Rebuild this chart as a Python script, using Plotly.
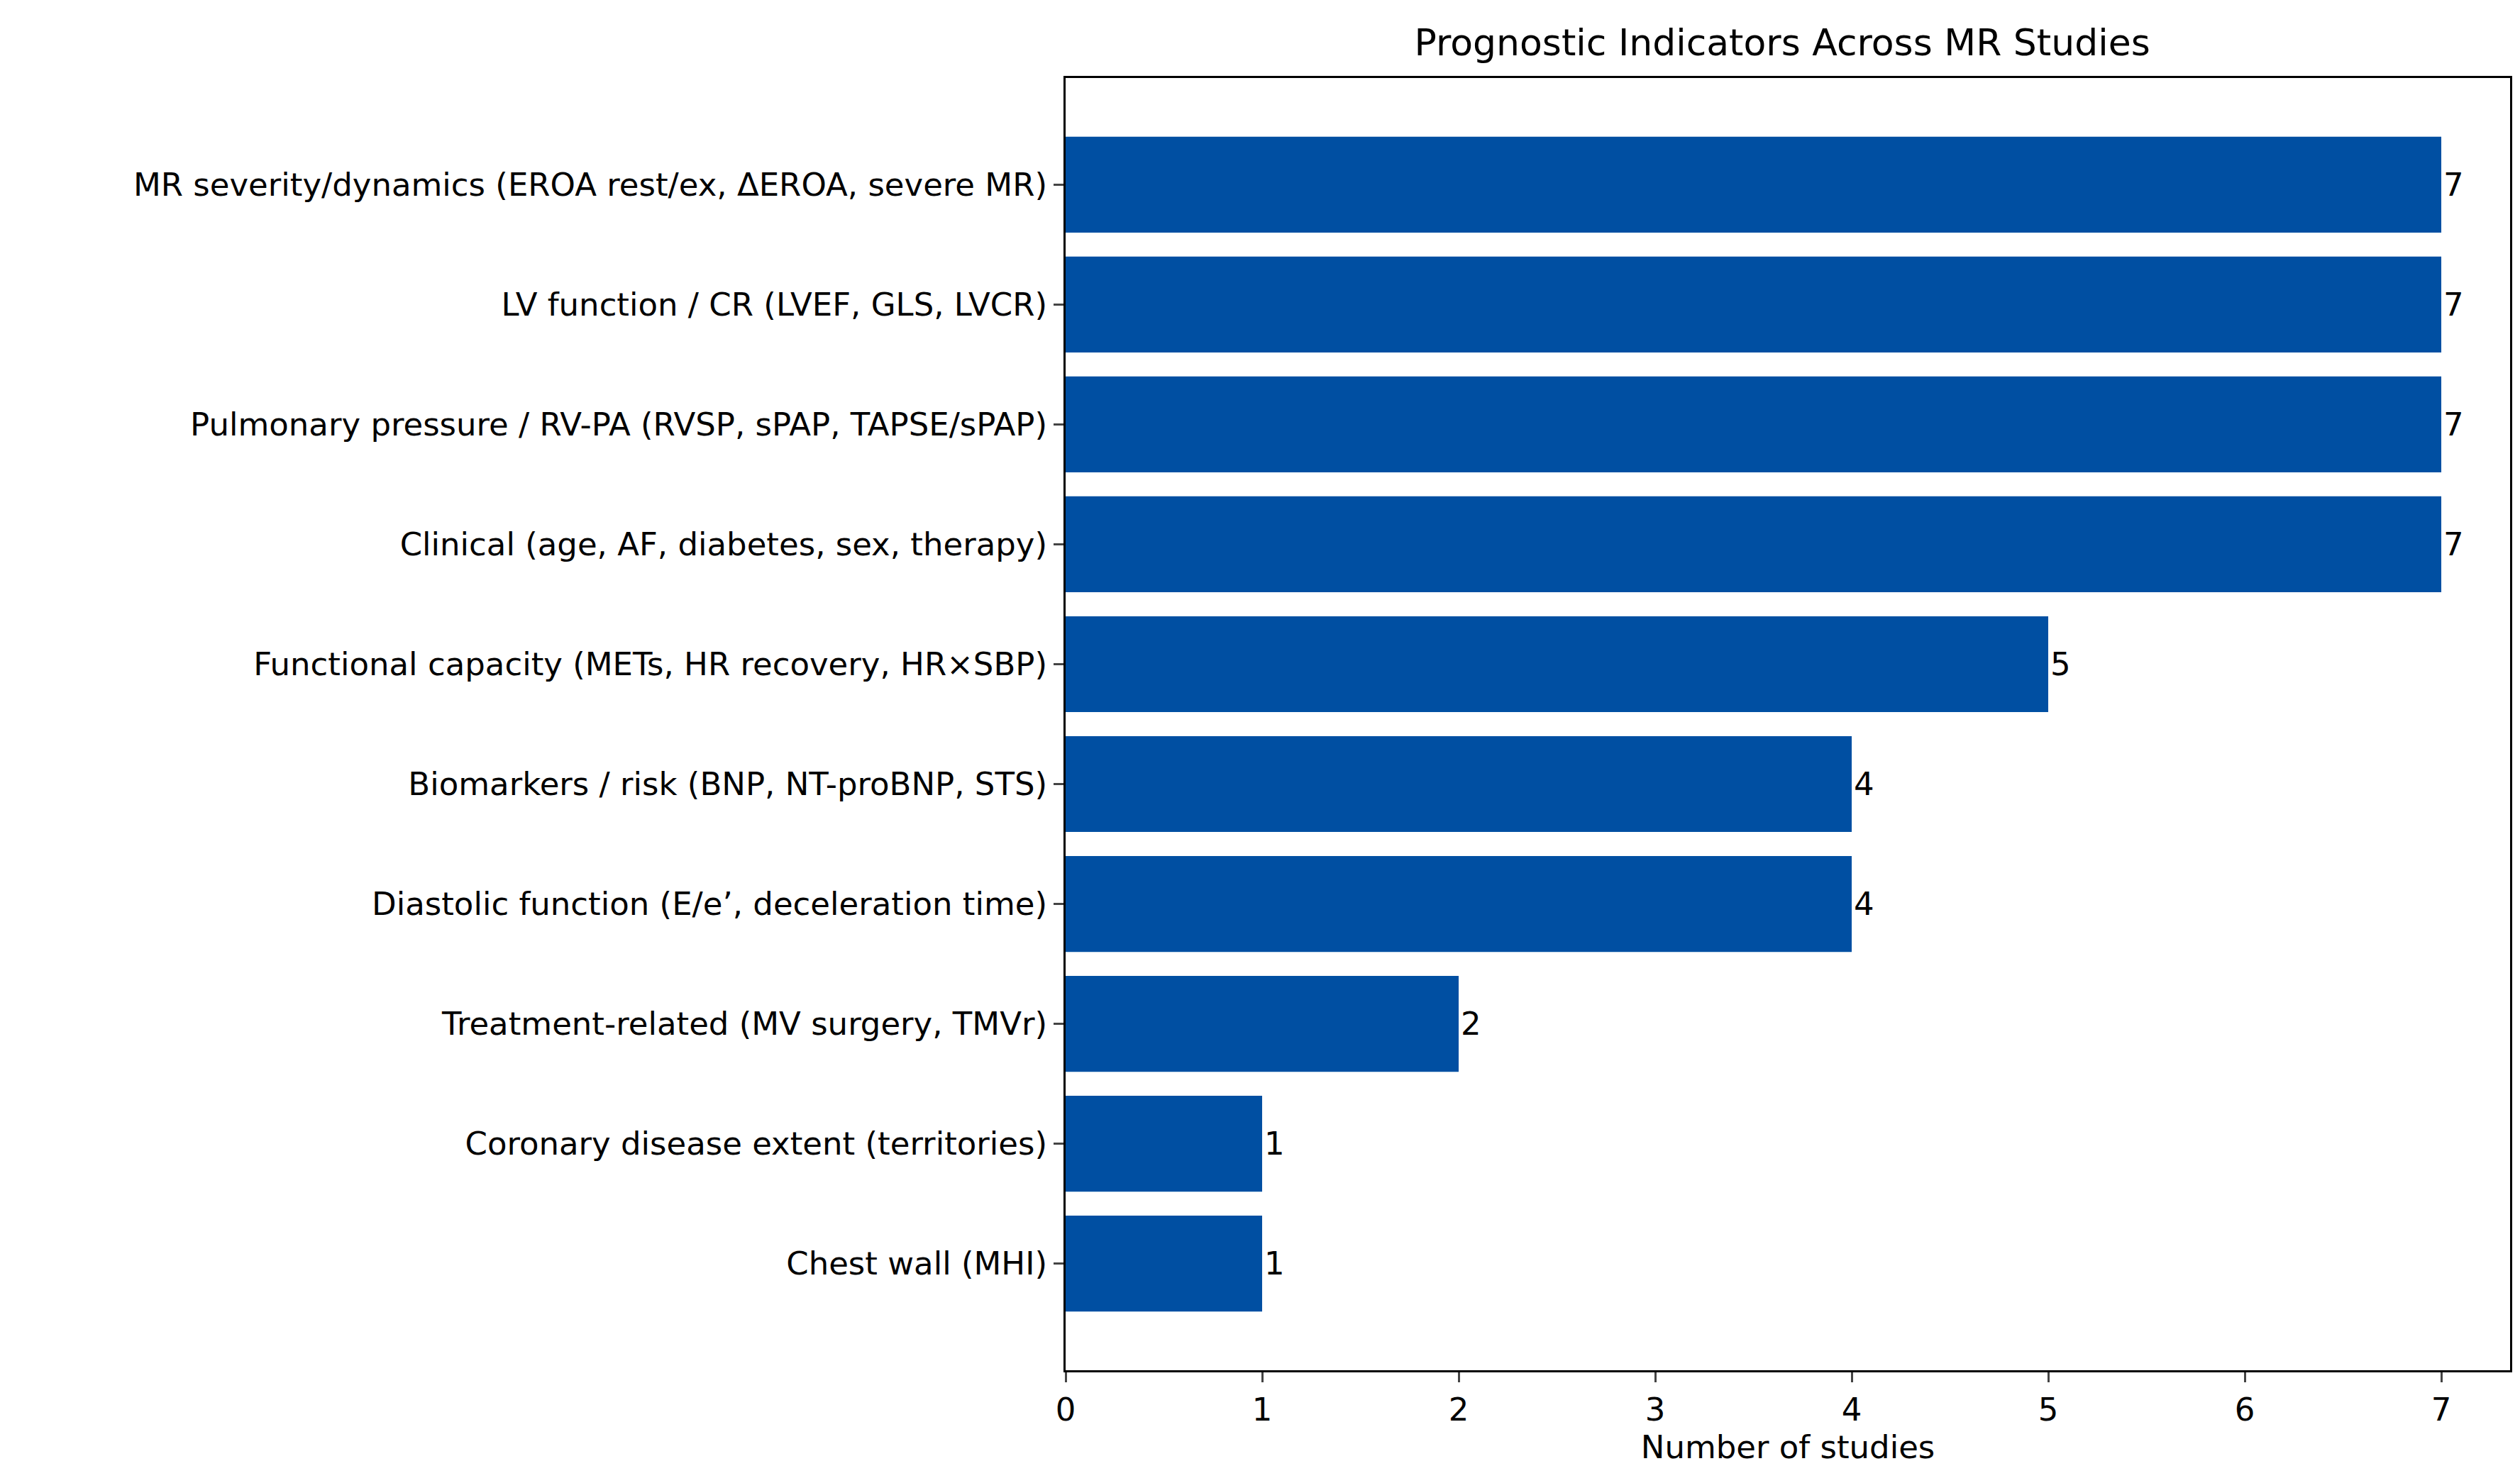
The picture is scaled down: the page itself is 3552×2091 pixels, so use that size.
import plotly.graph_objects as go

categories = [
    "MR severity/dynamics (EROA rest/ex, ΔEROA, severe MR)",
    "LV function / CR (LVEF, GLS, LVCR)",
    "Pulmonary pressure / RV-PA (RVSP, sPAP, TAPSE/sPAP)",
    "Clinical (age, AF, diabetes, sex, therapy)",
    "Functional capacity (METs, HR recovery, HR×SBP)",
    "Biomarkers / risk (BNP, NT-proBNP, STS)",
    "Diastolic function (E/e’, deceleration time)",
    "Treatment-related (MV surgery, TMVr)",
    "Coronary disease extent (territories)",
    "Chest wall (MHI)",
]
counts = [7, 7, 7, 7, 5, 4, 4, 2, 1, 1]

fnt = dict(family="DejaVu Sans", size=45, color="black")

fig = go.Figure(go.Bar(
    x=counts, y=categories, orientation="h", width=0.8,
    marker=dict(color="#004fa2", line=dict(width=0)),
    text=[str(c) for c in counts], textposition="outside",
    textfont=fnt, cliponaxis=False,
))
fig.update_layout(
    width=3552, height=2091, plot_bgcolor="white", paper_bgcolor="white",
    margin=dict(l=1494, r=22, t=102, b=167),
    font=fnt, showlegend=False,
    title=dict(text="Prognostic Indicators Across MR Studies", x=0.705, xanchor="center",
               y=0.975, yanchor="middle", font=dict(family="DejaVu Sans", size=52)),
)
fig.update_xaxes(range=[0, 7.35], dtick=1, showgrid=False, zeroline=False,
                 showline=True, linecolor="black", linewidth=3, mirror=True,
                 ticks="outside", ticklen=14, tickwidth=3,
                 title=dict(text="Number of studies", font=fnt, standoff=10))
fig.update_yaxes(autorange=False, range=[9.89, -0.89], showgrid=False, zeroline=False,
                 showline=True, linecolor="black", linewidth=3, mirror=True,
                 ticks="outside", ticklen=14, tickwidth=3)
fig.write_html("out.html")
